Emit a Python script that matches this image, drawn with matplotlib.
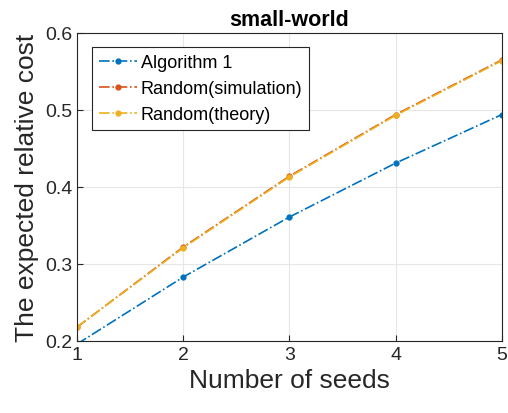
import matplotlib
matplotlib.use("Agg")
import matplotlib.pyplot as plt

seeds = [1, 2, 3, 4, 5]
alg1 = [0.196, 0.283, 0.361, 0.431, 0.494]
rand_sim = [0.218, 0.322, 0.414, 0.494, 0.565]
rand_theory = [0.218, 0.321, 0.413, 0.493, 0.564]
xticks = [1, 2, 3, 4, 5]
yticks = [0.2, 0.3, 0.4, 0.5, 0.6]

plt.rcParams['font.family'] = ['Liberation Sans', 'DejaVu Sans']

fig = plt.figure(figsize=(5.08, 4.14), dpi=100)
ax = fig.add_axes([0.1516, 0.174, 0.8364, 0.744])

ax.plot(seeds, alg1, '-.', marker='.', color='#0072BD', lw=1.2, ms=7, label='Algorithm 1')
ax.plot(seeds, rand_sim, '-.', marker='.', color='#D95319', lw=1.2, ms=7, label='Random(simulation)')
ax.plot(seeds, rand_theory, '-.', marker='.', color='#EDB120', lw=1.2, ms=7, label='Random(theory)')

ax.set_xlim(1, 5)
ax.set_ylim(0.2, 0.6)
ax.set_xticks(xticks)
ax.set_yticks(yticks)
ax.set_yticklabels([f"{v:.1f}" for v in yticks])
ax.grid(True, color='#e6e6e6', lw=0.8)
ax.set_axisbelow(True)
ax.tick_params(direction='in', labelsize=14, colors='#262626', length=4)
for s in ax.spines.values():
    s.set_color('#262626')
    s.set_linewidth(0.8)

ax.set_xlabel('Number of seeds', fontsize=19, color='#262626')
ax.set_ylabel('The expected relative cost', fontsize=19, color='#262626')
ax.set_title('small-world', fontsize=15.5, fontweight='bold', pad=6)

leg = ax.legend(loc='upper left', bbox_to_anchor=(0.035, 0.955), borderaxespad=0,
                fontsize=13, frameon=True, fancybox=False, edgecolor='#262626',
                framealpha=1, handlelength=2.1, borderpad=0.4, labelspacing=0.5,
                handletextpad=0.2)
leg.get_frame().set_linewidth(0.8)

fig.savefig('out.png', dpi=100)
